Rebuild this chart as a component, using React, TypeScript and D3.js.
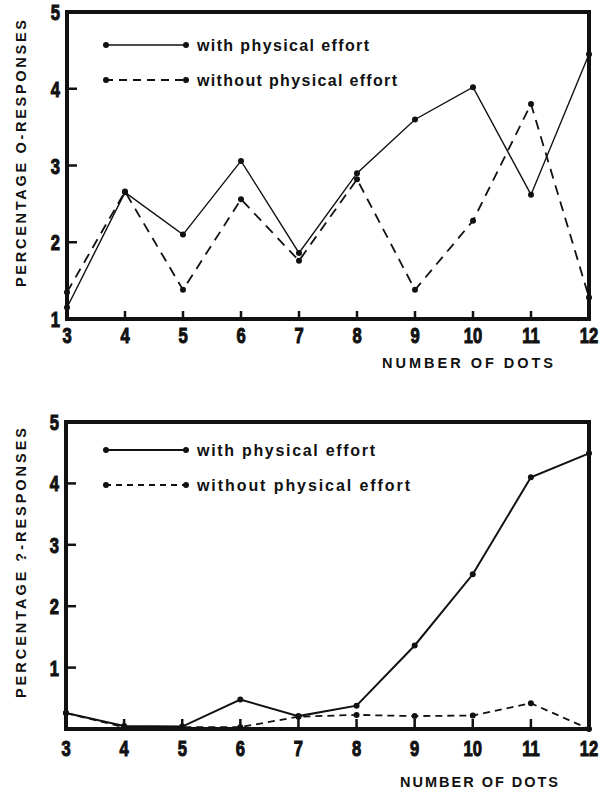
import React from "react";
import * as d3 from "d3";

// number of dots shown (x axis, both panels)
const dots = [3, 4, 5, 6, 7, 8, 9, 10, 11, 12];

// percentage 0-responses (upper panel)
const zeroWith = [1.15, 2.65, 2.1, 3.06, 1.86, 2.9, 3.6, 4.02, 2.62, 4.45];
const zeroWithout = [1.35, 2.66, 1.38, 2.56, 1.76, 2.82, 1.38, 2.28, 3.8, 1.28];

// percentage ?-responses (lower panel)
const queryWith = [0.26, 0.05, 0.04, 0.48, 0.21, 0.38, 1.36, 2.52, 4.1, 4.49];
const queryWithout = [0.26, 0.03, 0.03, 0.03, 0.2, 0.23, 0.21, 0.22, 0.42, 0.0];

const yTicksTop = [1, 2, 3, 4, 5];
const yTicksBottom = [1, 2, 3, 4, 5];

const legendLabels = ["with physical effort", "without physical effort"];

const tickFont = "'Liberation Sans', Arial, sans-serif";
const textFont = "'Liberation Sans', Arial, sans-serif";

type PanelProps = {
  x0: number; x1: number; yBottom: number; yTop: number;
  yDomain: [number, number]; yTicks: number[];
  withVals: number[]; withoutVals: number[];
  yTitle: string; yTitleSpan: [number, number];
  xTitleSpan: [number, number]; xTitleY: number;
  tickLabelY: number; legendY: [number, number];
  legendWidths: [number, number];
  dash: string; legendDash: string; solidWidth: number; tickLen: number;
};

// condensed heavy numerals: squeeze a bold face horizontally
function TickLabel(props: { x: number; y: number; anchor: "middle" | "end"; children: React.ReactNode }) {
  return (
    <text transform={`translate(${props.x},${props.y}) scale(0.72,0.97)`} textAnchor={props.anchor}
      fontFamily={tickFont} fontWeight="bold" fontSize={23} stroke="#111" strokeWidth={1.1} fill="#111">
      {props.children}
    </text>
  );
}

function Panel(p: PanelProps) {
  const x = d3.scaleLinear().domain([3, 12]).range([p.x0, p.x1]);
  const y = d3.scaleLinear().domain(p.yDomain).range([p.yBottom, p.yTop]);
  const line = d3.line<number>().x((_, i) => x(dots[i])).y((v) => y(v));
  const yMin = p.yDomain[0];

  return (
    <g>
      {/* series */}
      <path d={line(p.withVals) || ""} fill="none" stroke="#111" strokeWidth={p.solidWidth} />
      <path d={line(p.withoutVals) || ""} fill="none" stroke="#111" strokeWidth={1.8} strokeDasharray={p.dash} />
      {p.withVals.map((v, i) => (
        <circle key={"w" + i} cx={x(dots[i])} cy={y(v)} r={3} fill="#111" />
      ))}
      {p.withoutVals.map((v, i) => (
        <circle key={"o" + i} cx={x(dots[i])} cy={y(v)} r={3} fill="#111" />
      ))}

      {/* frame */}
      <rect x={x(3)} y={y(p.yDomain[1])} width={x(12) - x(3)} height={y(yMin) - y(p.yDomain[1])}
        fill="none" stroke="#111" strokeWidth={4} />

      {/* x ticks (inward) and labels */}
      {dots.map((d) => (
        <g key={"xt" + d}>
          {d > 3 && d < 12 && (
            <line x1={x(d)} x2={x(d)} y1={y(yMin)} y2={y(yMin) - p.tickLen} stroke="#111" strokeWidth={2.5} />
          )}
          <TickLabel x={x(d)} y={p.tickLabelY} anchor="middle">{d}</TickLabel>
        </g>
      ))}

      {/* y ticks (inward) and labels */}
      {p.yTicks.map((t) => (
        <g key={"yt" + t}>
          {t < p.yDomain[1] && t > yMin && (
            <line x1={x(3)} x2={x(3) + 10} y1={y(t)} y2={y(t)} stroke="#111" strokeWidth={2.5} />
          )}
          <TickLabel x={x(3) - 7} y={y(t) + 8} anchor="end">{t}</TickLabel>
        </g>
      ))}

      {/* axis titles */}
      <text transform={`translate(26,${p.yTitleSpan[1]}) rotate(-90)`} fontFamily={textFont} fontWeight="bold"
        fontSize={14.5} fill="#111" textLength={p.yTitleSpan[1] - p.yTitleSpan[0]} lengthAdjust="spacing">
        {p.yTitle}
      </text>
      <text x={p.xTitleSpan[0]} y={p.xTitleY} fontFamily={textFont} fontWeight="bold" fontSize={14.5} fill="#111"
        textLength={p.xTitleSpan[1] - p.xTitleSpan[0]} lengthAdjust="spacing">NUMBER OF DOTS</text>

      {/* legend */}
      {legendLabels.map((lab, i) => (
        <g key={lab}>
          <line x1={105} x2={186} y1={p.legendY[i]} y2={p.legendY[i]} stroke="#111"
            strokeWidth={i === 0 ? p.solidWidth : 1.8} strokeDasharray={i === 0 ? undefined : p.legendDash} />
          <circle cx={106} cy={p.legendY[i]} r={3} fill="#111" />
          <circle cx={186} cy={p.legendY[i]} r={3} fill="#111" />
          <text x={197} y={p.legendY[i] + 5.5} fontFamily={textFont} fontWeight="bold" fontSize={16} fill="#111"
            textLength={p.legendWidths[i]} lengthAdjust="spacing">{lab}</text>
        </g>
      ))}
    </g>
  );
}

export default function App() {
  return (
    <svg width={613} height={791} style={{ position: "absolute", left: 0, top: 0, background: "#fff" }}>
      <rect width={613} height={791} fill="#fff" />
      <Panel x0={67} x1={589} yBottom={319} yTop={12} yDomain={[1, 5]} yTicks={yTicksTop}
        withVals={zeroWith} withoutVals={zeroWithout}
        yTitle="PERCENTAGE  O-RESPONSES" yTitleSpan={[20, 287]}
        xTitleSpan={[382, 553]} xTitleY={368} tickLabelY={343}
        legendY={[45, 80]} legendWidths={[172, 200]}
        dash="10,7" legendDash="8,6" solidWidth={1.4} tickLen={8} />
      <Panel x0={66} x1={589} yBottom={729} yTop={422} yDomain={[0, 5]} yTicks={yTicksBottom}
        withVals={queryWith} withoutVals={queryWithout}
        yTitle="PERCENTAGE  ?-RESPONSES" yTitleSpan={[428, 698]}
        xTitleSpan={[400, 558]} xTitleY={787} tickLabelY={756}
        legendY={[450, 485]} legendWidths={[178, 213]}
        dash="7,5" legendDash="6,5" solidWidth={2} tickLen={10} />
    </svg>
  );
}
